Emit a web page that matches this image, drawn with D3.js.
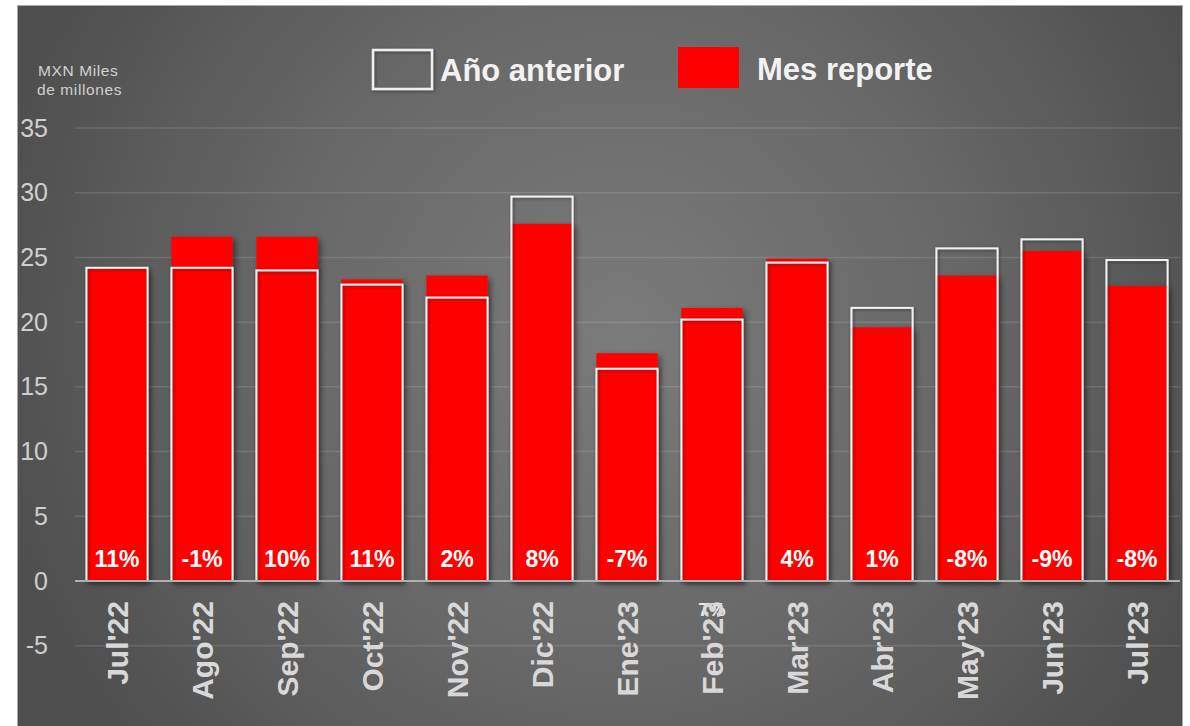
<!DOCTYPE html>
<html>
<head>
<meta charset="utf-8">
<script src="https://cdn.jsdelivr.net/npm/d3@7"></script>
<style>
  body { margin: 0; background: #fff; }
  text { font-family: "Liberation Sans", Arial, sans-serif; }
</style>
</head>
<body>
<div id="chart-area"></div>
<script>
// chart data
var months = ["Jul'22", "Ago'22", "Sep'22", "Oct'22", "Nov'22", "Dic'22", "Ene'23",
              "Feb'23", "Mar'23", "Abr'23", "May'23", "Jun'23", "Jul'23"];
var prevYear = [24.2, 24.2, 24.0, 22.9, 21.9, 29.7, 16.4, 20.2, 24.6, 21.1, 25.7, 26.4, 24.8];
var current  = [24.1, 26.6, 26.6, 23.3, 23.6, 27.6, 17.6, 21.1, 24.9, 19.6, 23.6, 25.5, 22.8];
var pctLabels = ["11%", "-1%", "10%", "11%", "2%", "8%", "-7%", "7%", "4%", "1%", "-8%", "-9%", "-8%"];
var yTicks = [-5, 0, 5, 10, 15, 20, 25, 30, 35];
var legendNames = ["Año anterior", "Mes reporte"];

// labels that slipped below the axis in the original
var displacedLabels = ["Feb'23"];

var svgWidth = 1190, svgHeight = 726;

var svg = d3.select("#chart-area").append("svg")
    .attr("width", svgWidth)
    .attr("height", svgHeight);

var defs = svg.append("defs");

var grad = defs.append("radialGradient")
    .attr("id", "bg")
    .attr("gradientUnits", "userSpaceOnUse")
    .attr("cx", 620).attr("cy", 330).attr("r", 640);
grad.append("stop").attr("offset", "0%").attr("stop-color", "#7b7b7b");
grad.append("stop").attr("offset", "55%").attr("stop-color", "#676767");
grad.append("stop").attr("offset", "100%").attr("stop-color", "#4f4f4f");

var shadow = defs.append("filter").attr("id", "shadow")
    .attr("x", "-10%").attr("y", "-10%").attr("width", "130%").attr("height", "130%");
shadow.append("feDropShadow")
    .attr("dx", 3).attr("dy", 3).attr("stdDeviation", 3)
    .attr("flood-color", "#000").attr("flood-opacity", 0.45);

var glow = defs.append("filter").attr("id", "glow")
    .attr("x", "-10%").attr("y", "-10%").attr("width", "130%").attr("height", "130%");
glow.append("feDropShadow")
    .attr("dx", 1).attr("dy", 1).attr("stdDeviation", 1.5)
    .attr("flood-color", "#222").attr("flood-opacity", 0.6);

// panel
svg.append("rect")
    .attr("x", 17.5).attr("y", 5.5)
    .attr("width", 1165).attr("height", 725)
    .attr("fill", "url(#bg)")
    .attr("stroke", "#aaa")
    .attr("stroke-width", 1);

// scales
var xScale = d3.scaleBand()
    .domain(months)
    .range([74.5, 1179.5])
    .paddingInner(0.28)
    .paddingOuter(0.14);

var yScale = d3.scaleLinear()
    .domain([0, 35])
    .range([581, 128]);

// gridlines
svg.append("g")
    .attr("class", "grid")
    .selectAll("line")
    .data(yTicks.filter(d => d !== 0))
    .enter()
    .append("line")
    .attr("x1", 75).attr("x2", 1180)
    .attr("y1", d => yScale(d)).attr("y2", d => yScale(d))
    .attr("stroke", "#ffffff")
    .attr("stroke-opacity", 0.12)
    .attr("stroke-width", 1.5);

// y axis labels
var yAxisCall = d3.axisLeft(yScale)
    .tickValues(yTicks)
    .tickSize(0)
    .tickPadding(0)
    .tickFormat(d => d);

var yAxis = svg.append("g")
    .attr("class", "y-axis")
    .attr("transform", "translate(48,0)")
    .call(yAxisCall);
yAxis.select(".domain").remove();
yAxis.selectAll("text")
    .attr("font-family", "'Liberation Sans', Arial, sans-serif")
    .attr("font-size", 25)
    .attr("fill", "#cfcfcf");

// unit label
var unit = svg.append("text")
    .attr("font-size", 15.5)
    .attr("letter-spacing", 0.6)
    .attr("fill", "#d0d0d0");
unit.append("tspan").attr("x", 38).attr("y", 76).text("MXN Miles");
unit.append("tspan").attr("x", 37).attr("y", 95).text("de millones");

// red bars (Mes reporte)
svg.append("g")
    .attr("class", "current")
    .selectAll("rect")
    .data(current)
    .enter()
    .append("rect")
    .attr("x", (d, i) => xScale(months[i]))
    .attr("y", d => yScale(d))
    .attr("width", xScale.bandwidth())
    .attr("height", d => yScale(0) - yScale(d))
    .attr("fill", "#ff0000")
    .attr("filter", "url(#shadow)");

// outline bars (Año anterior)
svg.append("g")
    .attr("class", "prev")
    .selectAll("rect")
    .data(prevYear)
    .enter()
    .append("rect")
    .attr("x", (d, i) => xScale(months[i]))
    .attr("y", d => yScale(d))
    .attr("width", xScale.bandwidth())
    .attr("height", d => yScale(0) - yScale(d))
    .attr("fill", "none")
    .attr("stroke", "#f2f2f2")
    .attr("stroke-width", 2)
    .attr("filter", "url(#glow)");

// zero line
svg.append("line")
    .attr("x1", 75).attr("x2", 1180)
    .attr("y1", yScale(0)).attr("y2", yScale(0))
    .attr("stroke", "#b0b0b0")
    .attr("stroke-width", 2);

// percent labels
var pct = svg.append("g").attr("class", "pct");
pctLabels.forEach(function(p, i) {
    var cx = xScale(months[i]) + xScale.bandwidth() / 2;
    var below = displacedLabels.indexOf(months[i]) >= 0;
    pct.append("text")
        .attr("x", cx)
        .attr("y", below ? 616 : 567)
        .attr("text-anchor", "middle")
        .attr("font-size", below ? 19 : 23)
        .attr("font-weight", "bold")
        .attr("fill", below ? "#e8e8e8" : "#ffffff")
        .text(p);
});

// x axis labels
var xAxisCall = d3.axisBottom(xScale).tickSize(0).tickPadding(0);
var xAxis = svg.append("g")
    .attr("class", "x-axis")
    .attr("transform", "translate(0,601)")
    .call(xAxisCall);
xAxis.select(".domain").remove();
xAxis.selectAll("text")
    .attr("font-family", "'Liberation Sans', Arial, sans-serif")
    .attr("font-size", 30)
    .attr("font-weight", "bold")
    .attr("fill", "#d8d8d8")
    .attr("text-anchor", "end")
    .attr("x", 0)
    .attr("y", 0)
    .attr("dy", "0.36em")
    .attr("transform", "rotate(-90)");

// legend
var legend = svg.append("g").attr("class", "legend");
legend.append("rect")
    .attr("x", 373).attr("y", 50)
    .attr("width", 59).attr("height", 39)
    .attr("fill", "none")
    .attr("stroke", "#eeeeee")
    .attr("stroke-width", 2.5)
    .attr("filter", "url(#glow)");
legend.append("text")
    .attr("x", 440).attr("y", 81)
    .attr("font-size", 31).attr("font-weight", "bold")
    .attr("fill", "#f2f2f2")
    .text(legendNames[0]);
legend.append("rect")
    .attr("x", 678).attr("y", 47)
    .attr("width", 61).attr("height", 41)
    .attr("fill", "#ff0000");
legend.append("text")
    .attr("x", 757).attr("y", 80)
    .attr("font-size", 31).attr("font-weight", "bold")
    .attr("fill", "#f2f2f2")
    .text(legendNames[1]);
</script>
</body>
</html>
